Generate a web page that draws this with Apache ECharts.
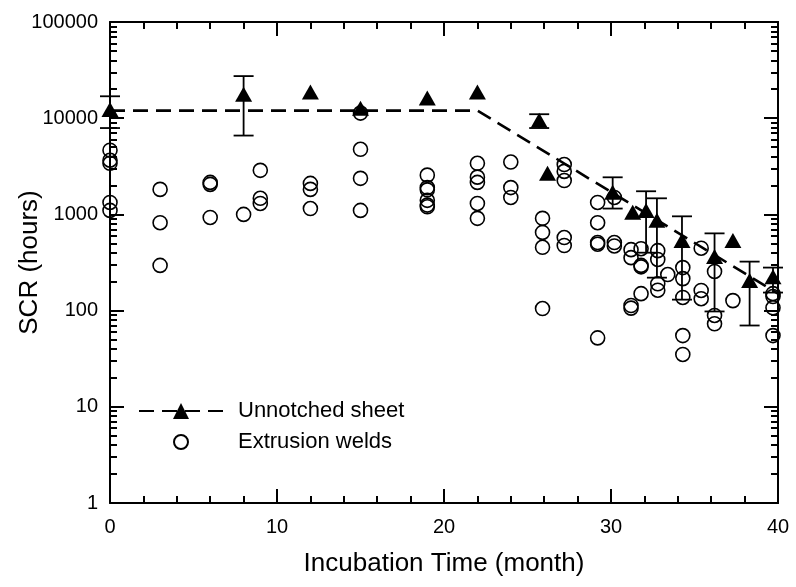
<!DOCTYPE html>
<html>
<head>
<meta charset="utf-8">
<script src="https://cdn.jsdelivr.net/npm/echarts@6/dist/echarts.min.js"></script>
<style>
  html, body { margin: 0; padding: 0; background: #fff; }
  #chart { width: 796px; height: 587px; }
</style>
</head>
<body>
<div id="chart"></div>
<script>
// Unnotched sheet: mean SCR per incubation time
const sheetMonths = [0, 8, 12, 15, 19, 22, 25.7, 26.2, 30.1, 31.3, 32.1, 32.75, 34.25, 36.2, 37.3, 38.3, 39.7];
const sheetHours  = [12300, 17700, 18700, 12700, 16200, 18700, 9500, 2680, 1700, 1050, 1100, 870, 535, 365, 535, 205, 225];

// Error bars on the unnotched sheet means
const errMonths = [0, 8, 25.7, 30.1, 32.1, 32.75, 34.25, 36.2, 38.3, 39.7];
const errLow    = [7900, 6600, 7900, 1150, 400, 220, 130, 98, 70, 154];
const errHigh   = [16900, 27400, 11000, 2430, 1740, 1470, 955, 635, 323, 280];

// Bilinear trend for the unnotched sheet
const trendMonths = [0, 22, 40];
const trendHours  = [12000, 12000, 150];

// Extrusion welds: individual specimens
const weldMonths = [
  0, 0, 0, 0, 0,
  3, 3, 3,
  6, 6, 6,
  8,
  9, 9, 9,
  12, 12, 12,
  15, 15, 15, 15,
  19, 19, 19, 19, 19, 19,
  22, 22, 22, 22, 22,
  24, 24, 24,
  25.9, 25.9, 25.9, 25.9,
  27.2, 27.2, 27.2, 27.2, 27.2,
  29.2, 29.2, 29.2, 29.2, 29.2,
  30.2, 30.2, 30.2,
  31.2, 31.2, 31.2, 31.2,
  31.8, 31.8, 31.8, 31.8,
  32.8, 32.8, 32.8, 32.8,
  33.4,
  34.3, 34.3, 34.3, 34.3, 34.3,
  35.4, 35.4, 35.4,
  36.2, 36.2, 36.2,
  37.3,
  39.7, 39.7, 39.7, 39.7
];
const weldHours = [
  4650, 3660, 3400, 1330, 1100,
  1820, 820, 295,
  2150, 2050, 930,
  1000,
  2870, 1470, 1300,
  2100, 1820, 1150,
  11300, 4750, 2370, 1100,
  2560, 1900, 1800, 1400, 1250, 1200,
  3400, 2440, 2150, 1300, 910,
  3500, 1900, 1500,
  910, 650, 455, 105,
  3300, 2800, 2250, 575, 475,
  1330, 820, 510, 490, 52,
  1500, 510, 470,
  430, 355, 113, 106,
  440, 295, 285, 150,
  420, 340, 190, 163,
  237,
  280, 215, 137, 55, 35,
  445, 162, 133,
  255, 89, 73,
  127,
  150, 140, 107, 55
];

// Axis ticks
const xMin = 0, xMax = 40, xStep = 10;
const yMajorTicks = [1, 10, 100, 1000, 10000, 100000];
const yMinorTicks = [];
for (let d = 1; d < 100000; d *= 10) {
  for (let k = 2; k <= 9; k++) yMinorTicks.push(k * d);
}

const FONT = 'Liberation Sans, Arial, Helvetica, sans-serif';
const INK = '#000';

const pair = (xs, ys) => xs.map((x, i) => [x, ys[i]]);

function yAxisDef(position, ticks, len, withLabels) {
  return {
    type: 'log',
    logBase: 10,
    min: 1,
    max: 100000,
    position: position,
    name: withLabels ? 'SCR (hours)' : '',
    nameLocation: 'middle',
    nameGap: 67,
    nameMoveOverlap: false,
    nameTextStyle: { fontFamily: FONT, fontSize: 26, color: INK },
    axisLine: { show: withLabels || position === 'right', onZero: false, lineStyle: { color: INK, width: 2 } },
    axisTick: { show: true, inside: true, length: len, customValues: ticks, lineStyle: { color: INK, width: 2 } },
    axisLabel: withLabels
      ? { show: true, customValues: yMajorTicks, margin: 12, fontFamily: FONT, fontSize: 20, color: INK,
          formatter: v => String(Math.round(v)) }
      : { show: false },
    minorTick: { show: false },
    splitLine: { show: false }
  };
}

function xAxisDef(position, withLabels) {
  return {
    type: 'value',
    min: xMin,
    max: xMax,
    interval: xStep,
    position: position,
    name: withLabels ? 'Incubation Time (month)' : '',
    nameLocation: 'middle',
    nameGap: 48,
    nameTextStyle: { fontFamily: FONT, fontSize: 26, color: INK },
    axisLine: { show: true, onZero: false, lineStyle: { color: INK, width: 2 } },
    axisTick: { show: true, inside: true, length: 14, lineStyle: { color: INK, width: 2 } },
    minorTick: { show: true, splitNumber: 5, length: 7, lineStyle: { color: INK, width: 2 } },
    axisLabel: withLabels
      ? { show: true, margin: 14, fontFamily: FONT, fontSize: 20, color: INK }
      : { show: false },
    splitLine: { show: false }
  };
}

const chart = echarts.init(document.getElementById('chart'), null, { renderer: 'canvas' });

chart.setOption({
  backgroundColor: '#fff',
  animation: false,
  grid: { left: 110, right: 18, top: 22, bottom: 84, containLabel: false, outerBoundsMode: 'none' },
  xAxis: [xAxisDef('bottom', true), xAxisDef('top', false)],
  yAxis: [
    yAxisDef('left', yMajorTicks, 14, true),
    yAxisDef('left', yMinorTicks, 7, false),
    yAxisDef('right', yMajorTicks, 14, false),
    yAxisDef('right', yMinorTicks, 7, false)
  ],
  legend: [
    {
      left: 133, top: 395, padding: 5,
      itemWidth: 84, itemHeight: 20,
      textStyle: { fontFamily: FONT, fontSize: 22, color: INK, padding: [0, 0, 0, 10] },
      data: [{ name: 'Unnotched sheet' }]
    },
    {
      left: 168, top: 426, padding: 5,
      itemWidth: 14, itemHeight: 14,
      textStyle: { fontFamily: FONT, fontSize: 22, color: INK, padding: [0, 0, 0, 45] },
      data: [{ name: 'Extrusion welds' }]
    }
  ],
  series: [
    {
      name: 'Extrusion welds',
      type: 'scatter',
      xAxisIndex: 0, yAxisIndex: 0,
      symbol: 'circle',
      symbolSize: 14,
      itemStyle: { color: 'rgba(0,0,0,0)', borderColor: INK, borderWidth: 1.6, opacity: 1 },
      data: pair(weldMonths, weldHours),
      z: 2
    },
    {
      name: 'Unnotched sheet',
      type: 'line',
      xAxisIndex: 0, yAxisIndex: 0,
      symbol: 'triangle',
      showSymbol: false,
      symbolSize: 16,
      itemStyle: { color: INK, opacity: 1 },
      lineStyle: { color: INK, width: 2.6, type: [15, 8] },
      data: pair(trendMonths, trendHours),
      z: 3
    },
    {
      name: 'sheet error',
      type: 'custom',
      xAxisIndex: 0, yAxisIndex: 0,
      data: errMonths.map((m, i) => [m, errLow[i], errHigh[i]]),
      renderItem: function (params, api) {
        const lo = api.coord([api.value(0), api.value(1)]);
        const hi = api.coord([api.value(0), api.value(2)]);
        const w = 10;
        const style = { stroke: INK, lineWidth: 1.8, fill: null };
        return {
          type: 'group',
          children: [
            { type: 'line', shape: { x1: lo[0], y1: lo[1], x2: hi[0], y2: hi[1] }, style: style },
            { type: 'line', shape: { x1: lo[0] - w, y1: lo[1], x2: lo[0] + w, y2: lo[1] }, style: style },
            { type: 'line', shape: { x1: hi[0] - w, y1: hi[1], x2: hi[0] + w, y2: hi[1] }, style: style }
          ]
        };
      },
      z: 4
    },
    {
      name: 'sheet means',
      type: 'scatter',
      xAxisIndex: 0, yAxisIndex: 0,
      symbol: 'triangle',
      symbolSize: [17, 15],
      itemStyle: { color: INK, opacity: 1 },
      data: pair(sheetMonths, sheetHours),
      z: 5
    }
  ]
});
</script>
</body>
</html>
